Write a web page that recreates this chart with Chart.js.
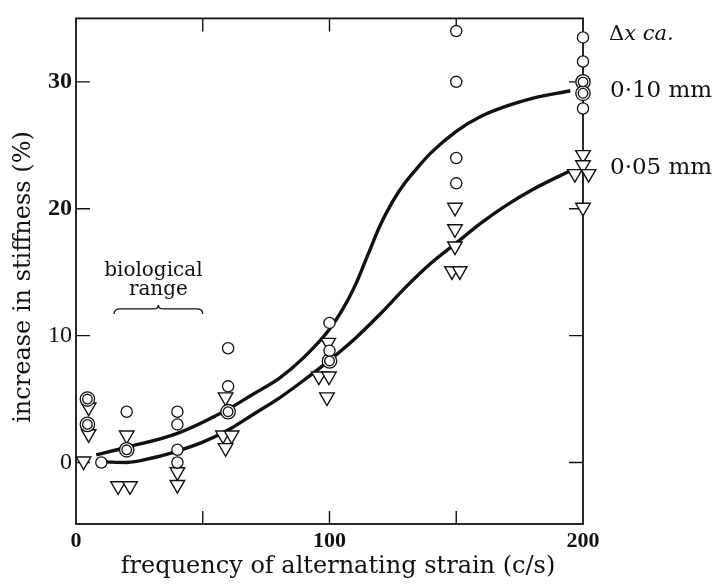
<!DOCTYPE html>
<html><head><meta charset="utf-8">
<script src="https://cdn.jsdelivr.net/npm/chart.js@4.4.0/dist/chart.umd.min.js"></script>
<style>html,body{margin:0;padding:0;background:#fff}#wrap{width:716px;height:584px}</style>
</head><body><div id="wrap"><canvas id="c" width="716" height="584"></canvas></div>
<script>
// ---- data ----
const xTickLabels = [0, 100, 200];
const xInnerTicks = [50, 100, 150];
const yTickLabels = [0, 10, 20, 30];
const biologicalRange = [15, 50];
const biologicalRangeLevel = 12.1;

// 0·10 mm (circles)
const circlesX = [10, 20, 40, 40, 40, 40, 60, 60, 100, 100, 150, 150, 150, 150, 200, 200, 200];
const circlesY = [0, 4, 4, 3, 1, 0, 9, 6, 11, 8.8, 34, 30, 24, 22, 33.5, 31.6, 27.9];
const doubleCirclesX = [4.5, 4.5, 20, 60, 100, 200, 200];
const doubleCirclesY = [5, 3, 1, 4, 8, 30, 29.1];
// 0·05 mm (triangles)
const trianglesX = [3, 5, 5, 20, 16.6, 21.3, 40, 40, 59, 58, 61.4, 59, 99.5, 95.8, 99.8, 99, 149.5, 149.5, 149.5, 148.3, 151.4, 200, 200, 196.8, 202.2, 200];
const trianglesY = [0.1, 4.35, 2.25, 2.15, -1.85, -1.85, -0.75, -1.75, 5.15, 2.15, 2.15, 1.15, 9.45, 6.8, 6.8, 5.15, 20.1, 18.4, 17.05, 15.1, 15.1, 24.25, 23.45, 22.75, 22.75, 20.1];
// drawn curves
const upperCurveX = [8, 20, 40, 60, 70, 80, 90, 100, 105, 110, 115, 120, 125, 130, 135, 140, 150, 160, 170, 180, 195];
const upperCurveY = [0.6, 1.2, 2.3, 4.2, 5.4, 6.6, 8.3, 10.5, 12.0, 13.9, 16.3, 18.7, 20.6, 22.1, 23.3, 24.4, 26.1, 27.3, 28.1, 28.7, 29.3];
const lowerCurveX = [11, 20, 30, 40, 50, 60, 70, 80, 90, 100, 110, 120, 130, 140, 150, 160, 170, 180, 195];
const lowerCurveY = [0.05, 0.0, 0.35, 0.9, 1.6, 2.55, 3.8, 5.05, 6.5, 8.05, 9.75, 11.7, 13.8, 15.7, 17.3, 18.9, 20.3, 21.5, 23.0];

const xTitle = 'frequency of alternating strain (c/s)';
const yTitle = 'increase in stiffness (%)';
const bioLabel = ['biological', 'range'];
const sideLabels = ['0·10 mm', '0·05 mm'];

const pts = (xs, ys) => xs.map((x, i) => ({x, y: ys[i]}));
const SERIF = '"DejaVu Serif", "Liberation Serif", serif';
const TNR = '"Liberation Serif", serif';

const deco = {
  id: 'deco',
  beforeDatasetsDraw(chart) {
    const {ctx, chartArea: a, scales: {x, y}} = chart;
    ctx.save();
    ctx.strokeStyle = '#111';
    ctx.lineWidth = 1.8;
    ctx.strokeRect(a.left, a.top, a.right - a.left, a.bottom - a.top);
    ctx.lineWidth = 1.4;
    const L = 14;
    ctx.beginPath();
    yTickLabels.forEach(v => {
      const p = y.getPixelForValue(v);
      ctx.moveTo(a.left, p); ctx.lineTo(a.left + L, p);
      ctx.moveTo(a.right, p); ctx.lineTo(a.right - L, p);
    });
    xInnerTicks.forEach(v => {
      const p = x.getPixelForValue(v);
      ctx.moveTo(p, a.top); ctx.lineTo(p, a.top + L - 1);
      ctx.moveTo(p, a.bottom); ctx.lineTo(p, a.bottom - L + 1);
    });
    ctx.stroke();
    // brace for biological range
    const x1 = x.getPixelForValue(biologicalRange[0]);
    const x2 = x.getPixelForValue(biologicalRange[1]);
    const xm = (x1 + x2) / 2;
    const yb = y.getPixelForValue(biologicalRangeLevel);
    ctx.lineWidth = 1.3;
    ctx.beginPath();
    ctx.moveTo(x1, yb + 5);
    ctx.quadraticCurveTo(x1, yb, x1 + 6, yb);
    ctx.lineTo(xm - 5, yb);
    ctx.quadraticCurveTo(xm, yb, xm, yb - 4);
    ctx.quadraticCurveTo(xm, yb, xm + 5, yb);
    ctx.lineTo(x2 - 6, yb);
    ctx.quadraticCurveTo(x2, yb, x2, yb + 5);
    ctx.stroke();
    ctx.restore();
  },
  afterDraw(chart) {
    const {ctx, chartArea: a, scales: {x, y}} = chart;
    ctx.save();
    ctx.fillStyle = '#111';
    ctx.textBaseline = 'middle';
    // axis titles
    ctx.font = '24px ' + SERIF;
    ctx.textAlign = 'center';
    ctx.fillText(xTitle, 338, 567);
    ctx.save();
    ctx.translate(24, 277);
    ctx.rotate(-Math.PI / 2);
    ctx.fillText(yTitle, 0, 0);
    ctx.restore();
    // biological range
    ctx.font = '20px ' + SERIF;
    const xm = (x.getPixelForValue(biologicalRange[0]) + x.getPixelForValue(biologicalRange[1])) / 2;
    const yb = y.getPixelForValue(biologicalRangeLevel);
    ctx.fillText(bioLabel[0], xm - 5, yb - 38);
    ctx.fillText(bioLabel[1], xm, yb - 19);
    // side labels
    ctx.textAlign = 'left';
    const lx = a.right + 26;
    ctx.font = '21px ' + SERIF;
    ctx.fillText('Δ', lx, 35);
    const w = ctx.measureText('Δ').width;
    ctx.font = 'italic 21px ' + SERIF;
    ctx.fillText('x ca.', lx + w, 35);
    ctx.font = '23px ' + SERIF;
    ctx.fillText(sideLabels[0], lx + 1, 91);
    ctx.fillText(sideLabels[1], lx + 1, 168);
    ctx.restore();
  }
};

const common = {showLine: false, borderColor: '#111', backgroundColor: '#fff', clip: false, order: 1};

new Chart(document.getElementById('c'), {
  type: 'scatter',
  data: {
    datasets: [
      {label: 'curve 0·10 mm', data: pts(upperCurveX, upperCurveY), showLine: true, borderColor: '#111', borderWidth: 3.4, pointRadius: 0, cubicInterpolationMode: 'monotone', order: 10, clip: false},
      {label: 'curve 0·05 mm', data: pts(lowerCurveX, lowerCurveY), showLine: true, borderColor: '#111', borderWidth: 3.4, pointRadius: 0, cubicInterpolationMode: 'monotone', order: 10, clip: false},
      {...common, label: '0·05 mm', data: pts(trianglesX, trianglesY), pointStyle: 'triangle', rotation: 180, pointRadius: 8.4, borderWidth: 1.4, order: 3},
      {...common, label: '0·10 mm', data: pts(circlesX, circlesY), pointStyle: 'circle', pointRadius: 5.6, borderWidth: 1.3, order: 2},
      {...common, label: '0·10 mm (2)', data: pts(doubleCirclesX, doubleCirclesY), pointStyle: 'circle', pointRadius: 7.2, borderWidth: 1.3, order: 2},
      {...common, label: '0·10 mm (2) inner', data: pts(doubleCirclesX, doubleCirclesY), pointStyle: 'circle', pointRadius: 4.8, borderWidth: 1.3, order: 1}
    ]
  },
  options: {
    responsive: false,
    animation: false,
    devicePixelRatio: 1,
    layout: {padding: {left: 0, top: 16, right: 133, bottom: 0}},
    plugins: {legend: {display: false}, tooltip: {enabled: false}},
    scales: {
      x: {
        type: 'linear', min: 0, max: 200,
        afterFit: s => { s.height = 60; },
        afterBuildTicks: s => { s.ticks = xTickLabels.map(v => ({value: v})); },
        grid: {display: false, drawTicks: false},
        border: {display: false},
        ticks: {color: '#111', padding: 4, maxRotation: 0, font: {family: TNR, size: 22, weight: 'bold'}}
      },
      y: {
        type: 'linear', min: -4.85, max: 35,
        afterFit: s => { s.width = 76; },
        afterBuildTicks: s => { s.ticks = yTickLabels.map(v => ({value: v})); },
        grid: {display: false, drawTicks: false},
        border: {display: false},
        ticks: {color: '#111', padding: 4, font: c => ({family: TNR, size: 24, weight: (c.tick && c.tick.value >= 20) ? 'bold' : 'normal'})}
      }
    }
  },
  plugins: [deco]
});
</script>
</body></html>
